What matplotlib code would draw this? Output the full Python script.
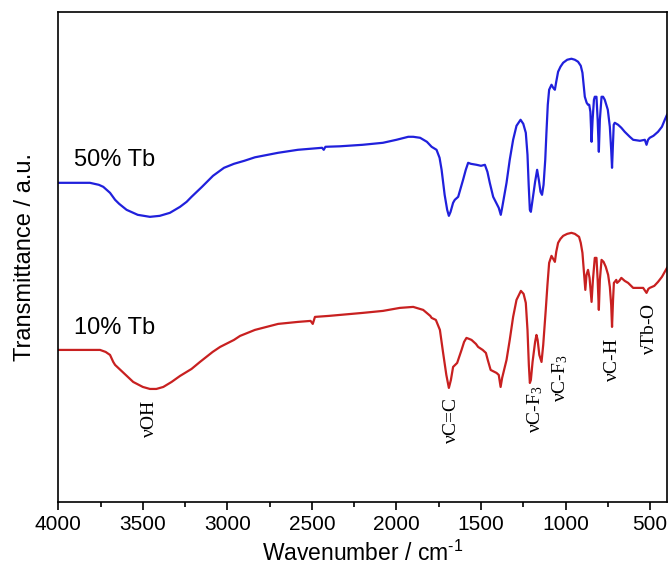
import numpy as np
import matplotlib
matplotlib.use("Agg")
import matplotlib.pyplot as plt

# --- FTIR spectra (wavenumber in cm-1, transmittance in a.u.) ---
wn_50 = [4000, 3900, 3813, 3760, 3734, 3694, 3664, 3640, 3596, 3530, 3458, 3400, 3340,
         3280, 3241, 3212, 3150, 3085, 3020, 2961, 2900, 2837, 2700, 2583, 2440, 2430,
         2420, 2334, 2200, 2080, 2000, 1930, 1901, 1860, 1820, 1792, 1763, 1745, 1733,
         1715, 1700, 1690, 1680, 1665, 1655, 1635, 1606, 1590, 1576, 1560, 1526, 1500,
         1477, 1462, 1448, 1428, 1410, 1395, 1383, 1375, 1349, 1330, 1310, 1290, 1266,
         1250, 1235, 1225, 1218, 1211, 1205, 1195, 1180, 1168, 1158, 1148, 1139, 1130,
         1120, 1113, 1105, 1097, 1083, 1073, 1063, 1055, 1044, 1030, 1014, 990, 965,
         945, 926, 910, 900, 893, 886, 875, 867, 860, 853, 846, 840, 832, 827, 817,
         810, 803, 797, 787, 778, 768, 750, 738, 730, 725, 720, 715, 709, 689, 670,
         650, 620, 600, 560, 531, 521, 512, 502, 480, 453, 430, 413, 400]
t_50 = [319, 319, 319, 317, 315, 309, 302, 298, 292, 287, 285, 286, 289,
        295, 300, 305, 315, 326, 334, 338, 341, 344.5, 349, 352, 354, 352,
        355, 355.5, 357, 359, 362, 365, 365, 364, 360, 355, 352, 344, 332,
        307, 292, 286, 290, 299, 302, 305, 322, 332, 339, 338, 337, 336,
        337, 330, 319, 305, 299, 294, 287, 294, 319, 342, 362, 376, 382,
        378, 369, 347, 317, 292, 290, 302, 320, 332, 322, 310, 307, 317,
        342, 369, 397, 412, 417, 414, 412, 420, 430, 435, 439, 442, 443,
        442, 440, 436, 429, 417, 405, 399, 397, 397, 390, 360, 382, 402, 405, 405,
        382, 350, 382, 405, 405, 402, 392, 375, 352, 334, 357, 377, 379, 377, 374,
        370, 365, 362, 361, 362, 357, 362, 364, 366, 370, 375, 382, 387]

wn_10 = [4000, 3900, 3800, 3753, 3720, 3694, 3675, 3664, 3620, 3557, 3500, 3458, 3420,
         3379, 3330, 3280, 3212, 3162, 3087, 3043, 2961, 2925, 2837, 2700, 2583, 2508,
         2495, 2482, 2400, 2334, 2200, 2080, 1980, 1901, 1842, 1800, 1792, 1767, 1743,
         1724, 1705, 1690, 1678, 1665, 1641, 1615, 1600, 1586, 1570, 1556, 1530, 1517,
         1490, 1471, 1460, 1443, 1420, 1408, 1395, 1384, 1375, 1349, 1330, 1310, 1290,
         1264, 1248, 1235, 1225, 1217, 1211, 1205, 1195, 1180, 1172, 1165, 1155, 1142,
         1132, 1117, 1107, 1097, 1083, 1073, 1063, 1055, 1044, 1030, 1014, 990, 965,
         945, 920, 910, 900, 890, 883, 876, 867, 858, 846, 838, 827, 817, 810, 803,
         797, 787, 775, 762, 748, 738, 730, 725, 719, 714, 709, 700, 695, 682, 670,
         650, 630, 600, 541, 521, 510, 502, 475, 453, 430, 413, 400]
t_10 = [152, 152, 152, 152, 150, 147, 140, 137, 130, 120, 115, 113, 113,
        115, 120, 126, 133, 140, 150, 155, 162, 166, 172, 178, 180, 181,
        178, 185, 186, 187, 189, 191, 194, 195, 192, 186, 184, 182, 172,
        149, 127, 114, 122, 135, 139, 152, 160, 164, 163, 162, 158, 155,
        152, 149, 142, 132, 130, 129, 127, 115, 124, 142, 162, 185, 202,
        211, 208, 199, 172, 137, 119, 122, 140, 160, 167, 162, 147, 140,
        157, 192, 217, 239, 246, 243, 240, 250, 259, 263, 266, 268, 269,
        268, 265, 259, 249, 227, 212, 227, 232, 224, 200, 222, 244, 244, 222, 192,
        222, 242, 240, 235, 227, 215, 197, 175, 202, 219, 220, 222, 219, 221, 224,
        221, 219, 214, 214, 209, 213, 214, 216, 220, 225, 230, 234]

# band assignments: (label, wavenumber, top of text in a.u.)
band_labels = [r"$\nu$OH", r"$\nu$C=C", r"$\nu$C-F$_3$", r"$\nu$C-F$_3$", r"$\nu$C-H", r"$\nu$Tb-O"]
band_wn = [3458, 1672, 1182, 1034, 721, 502]
band_top = [102, 105, 117, 147, 164, 199]

plt.rcParams['font.family'] = ['Liberation Sans', 'DejaVu Sans']
plt.rcParams['mathtext.fontset'] = 'custom'
plt.rcParams['mathtext.rm'] = 'Liberation Serif'
plt.rcParams['mathtext.it'] = 'Liberation Serif'
plt.rcParams['mathtext.default'] = 'regular'

fig = plt.figure(figsize=(6.7, 5.74), dpi=100)
ax = fig.add_axes([0.087, 0.1254, 0.9085, 0.8542])

ax.plot(wn_50, t_50, color='#2020dc', lw=1.6)
ax.plot(wn_10, t_10, color='#c82020', lw=1.6)

ax.text(3910, 342, "50% Tb", fontsize=17, va='center', ha='left')
ax.text(3910, 174, "10% Tb", fontsize=17, va='center', ha='left')

for lab, x, y in zip(band_labels, band_wn, band_top):
    ax.text(x, y, lab, rotation=90, ha='center', va='top', fontsize=14,
            family='Liberation Serif')

ax.set_xlim(4000, 400)
ax.set_ylim(0, 490)
ax.set_xticks(np.arange(4000, 499, -500))
ax.set_xticks(np.arange(3750, 400, -500), minor=True)
ax.set_yticks([])
ax.tick_params(axis='x', which='major', direction='out', length=5.5, width=1.2,
               labelsize=15, pad=4)
ax.tick_params(axis='x', which='minor', direction='out', length=3.5, width=1.2)
for s in ax.spines.values():
    s.set_linewidth(1.2)

ax.set_xlabel("Wavenumber / cm$^{\u2010 1}$", fontsize=16.5, labelpad=5)
ax.set_ylabel("Transmittance / a.u.", fontsize=17, labelpad=16)

fig.savefig("out.png", dpi=100)
